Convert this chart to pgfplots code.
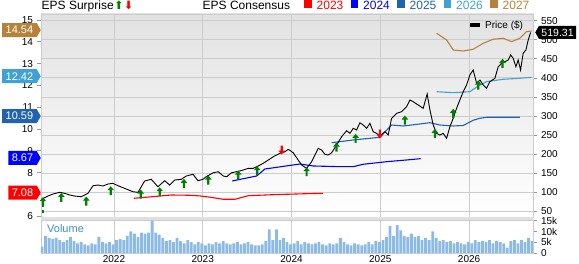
\documentclass[border=0pt]{standalone}
\usepackage{pgfplots}
\pgfplotsset{compat=1.18}
\usepackage{fontspec}
\setmainfont{Liberation Sans}
\newfontfamily\dejavu{DejaVu Sans}
\usetikzlibrary{shapes.symbols}

\definecolor{c23}{HTML}{FF0000}
\definecolor{c24}{HTML}{0000FF}
\definecolor{c25}{HTML}{1F62B0}
\definecolor{c26}{HTML}{40A2D4}
\definecolor{c27}{HTML}{B5823A}
\definecolor{grn}{HTML}{008000}
\definecolor{gridc}{HTML}{CCCCCC}
\definecolor{tickc}{HTML}{999999}
\definecolor{bgtop}{HTML}{E2E2E2}
\definecolor{sepc}{HTML}{E0E0E0}
\definecolor{volc}{HTML}{8CBAE6}
\definecolor{voltext}{HTML}{3A8FD0}

\pgfdeclareplotmark{uparr}{%
  \pgfpathmoveto{\pgfpoint{0pt}{4.5pt}}%
  \pgfpathlineto{\pgfpoint{3.3pt}{0.5pt}}%
  \pgfpathlineto{\pgfpoint{1.1pt}{0.5pt}}%
  \pgfpathlineto{\pgfpoint{1.1pt}{-4.5pt}}%
  \pgfpathlineto{\pgfpoint{-1.1pt}{-4.5pt}}%
  \pgfpathlineto{\pgfpoint{-1.1pt}{0.5pt}}%
  \pgfpathlineto{\pgfpoint{-3.3pt}{0.5pt}}%
  \pgfpathclose\pgfusepathqfill}
\pgfdeclareplotmark{dnarr}{%
  \pgfpathmoveto{\pgfpoint{0pt}{-4.5pt}}%
  \pgfpathlineto{\pgfpoint{3.3pt}{-0.5pt}}%
  \pgfpathlineto{\pgfpoint{1.1pt}{-0.5pt}}%
  \pgfpathlineto{\pgfpoint{1.1pt}{4.5pt}}%
  \pgfpathlineto{\pgfpoint{-1.1pt}{4.5pt}}%
  \pgfpathlineto{\pgfpoint{-1.1pt}{-0.5pt}}%
  \pgfpathlineto{\pgfpoint{-3.3pt}{-0.5pt}}%
  \pgfpathclose\pgfusepathqfill}

\pgfplotsset{
  /pgf/number format/assume math mode=true,
  base/.style={scale only axis, width=492pt, xmin=2021.178, xmax=2026.72,
    at={(41pt,47pt)}, anchor=south west, height=203pt,
    tick label style={font=\fontsize{10}{12}\selectfont}},
}
\tikzset{tagL/.style={shape=signal, signal to=east, signal pointer angle=120,
    text=white, font=\fontsize{11}{13}\selectfont, minimum height=14pt,
    inner xsep=3.5pt, inner ysep=1pt, anchor=east}}

\begin{document}
\begin{tikzpicture}[x=1pt,y=1pt]
\path[use as bounding box] (0,0) rectangle (579,264);

% price axis: background, grid, right ticks
\begin{axis}[base,
  ymin=34.8, ymax=567.6,
  axis background/.style={shade, top color=bgtop, bottom color=white},
  xtick={2022,2023,2024,2025,2026}, xticklabels={},
  ytick={50,100,...,550},
  xmajorgrids, ymajorgrids,
  grid style={gridc, line width=0.7pt},
  ytick pos=right, yticklabel pos=right,
  xtick style={draw=none},
  ytick style={draw=tickc, line width=0.6pt},
  tick align=outside, major tick length=4.5pt,
  axis line style={draw=gridc},
]
\addplot[draw=none] coordinates {(2022,100)};
\end{axis}

% EPS consensus axis
\begin{axis}[base,
  ymin=5.963, ymax=15.275,
  hide x axis, axis y line*=left,
  ytick={6,...,15},
  ytick style={draw=tickc, line width=0.6pt},
  tick align=outside, major tick length=4.5pt,
  axis line style={draw=gridc},
  clip mode=individual,
]
\addplot[c23, line width=1.1pt] coordinates {(2022.225,6.821) (2022.45,6.90) (2022.645,6.972) (2022.85,6.96) (2022.968,6.93) (2023.1,6.86) (2023.231,6.775) (2023.363,6.775) (2023.512,6.940) (2023.75,6.98) (2023.945,7.005) (2024.15,7.03) (2024.357,7.050)};
\addplot[c24, line width=1.1pt] coordinates {(2023.332,7.615) (2023.607,7.844) (2023.700,8.165) (2023.9,8.28) (2024.095,8.394) (2024.244,8.303) (2024.545,8.271) (2024.695,8.271) (2024.807,8.381) (2025.071,8.50) (2025.3,8.58) (2025.454,8.638)};
\addplot[c25, line width=1.1pt] coordinates {(2024.452,9.372) (2024.695,9.495) (2024.995,9.619) (2025.127,10.183) (2025.258,10.138) (2025.446,10.229) (2025.559,10.289) (2025.671,10.183) (2025.821,10.138) (2025.934,10.16) (2026.046,10.40) (2026.122,10.491) (2026.197,10.537) (2026.572,10.537)};
\addplot[c26, line width=1.1pt] coordinates {(2025.634,11.711) (2025.821,11.665) (2026.009,11.711) (2026.103,11.972) (2026.197,12.170) (2026.384,12.280) (2026.572,12.326) (2026.704,12.372)};
\addplot[c27, line width=1.1pt] coordinates {(2025.634,14.390) (2025.747,14.083) (2025.821,13.624) (2025.934,13.578) (2026.046,13.656) (2026.159,13.931) (2026.271,14.115) (2026.384,14.161) (2026.479,14.005) (2026.572,14.161) (2026.647,14.463) (2026.704,14.495)};
\coordinate (e27) at (axis cs:2021.178,14.54);
\coordinate (e26) at (axis cs:2021.178,12.42);
\coordinate (e25) at (axis cs:2021.178,10.59);
\coordinate (e24) at (axis cs:2021.178,8.67);
\coordinate (e23) at (axis cs:2021.178,7.08);
\end{axis}

% price line and surprise arrows
\begin{axis}[base, ymin=34.8, ymax=567.6, hide axis, clip=false]
\addplot[black, line width=0.9pt] coordinates {(2021.181,81.2) (2021.257,89.8) (2021.313,95.1) (2021.389,99.5) (2021.445,96.9) (2021.501,92.5) (2021.557,89.8) (2021.632,88.0) (2021.707,96.9) (2021.764,116.9) (2021.820,118.7) (2021.876,116.1) (2021.932,121.3) (2021.989,123.2) (2022.045,116.9) (2022.120,110.0) (2022.214,101.1) (2022.270,99.5) (2022.346,129.2) (2022.420,133.7) (2022.495,114.2) (2022.571,130.0) (2022.627,118.7) (2022.684,131.8) (2022.758,133.7) (2022.814,142.3) (2022.890,146.8) (2022.946,130.0) (2023.002,133.7) (2023.039,140.5) (2023.118,151.0) (2023.175,153.6) (2023.231,142.3) (2023.269,140.5) (2023.325,151.0) (2023.382,153.6) (2023.456,158.1) (2023.512,162.5) (2023.569,162.5) (2023.625,168.6) (2023.681,175.7) (2023.738,184.3) (2023.794,193.0) (2023.869,201.9) (2023.926,206.1) (2023.963,212.4) (2024.019,203.5) (2024.075,184.3) (2024.114,171.2) (2024.170,162.5) (2024.226,179.9) (2024.264,197.5) (2024.301,215.0) (2024.339,210.6) (2024.376,199.3) (2024.414,197.5) (2024.452,203.5) (2024.508,223.7) (2024.564,245.5) (2024.620,261.2) (2024.658,254.4) (2024.695,267.5) (2024.733,263.1) (2024.770,282.2) (2024.807,276.2) (2024.846,267.5) (2024.883,280.7) (2024.920,258.6) (2024.958,254.4) (2024.995,247.3) (2025.052,258.6) (2025.089,250.0) (2025.127,293.8) (2025.184,306.9) (2025.240,311.1) (2025.296,324.2) (2025.333,341.8) (2025.370,337.4) (2025.427,328.7) (2025.483,320.0) (2025.528,357.6) (2025.559,315.6) (2025.596,276.2) (2025.634,254.4) (2025.671,250.0) (2025.708,254.4) (2025.747,241.3) (2025.784,271.7) (2025.821,293.8) (2025.859,320.0) (2025.896,341.8) (2025.934,363.6) (2025.972,381.2) (2026.009,407.5) (2026.046,420.6) (2026.085,385.7) (2026.122,394.3) (2026.159,381.2) (2026.197,372.5) (2026.234,389.9) (2026.291,398.8) (2026.328,429.2) (2026.366,438.2) (2026.403,442.4) (2026.441,446.8) (2026.468,460.0) (2026.497,451.3) (2026.527,429.2) (2026.553,446.8) (2026.580,420.6) (2026.609,464.4) (2026.640,473.1) (2026.666,499.3) (2026.693,519.3)};
\addplot[grn, dashed, line width=1.1pt] coordinates {(2021.200,68.8) (2021.200,37.3)};
\addplot[only marks, mark=uparr, color=grn] coordinates {(2021.200,74.9) (2021.407,86.4) (2021.688,76.7) (2021.963,103.7) (2022.301,95.1) (2022.515,101.1) (2022.788,123.2) (2023.062,131.8) (2023.400,145.0) (2023.614,156.3) (2024.170,153.6) (2024.506,218.5) (2024.722,241.3) (2025.277,289.3) (2025.615,254.4) (2025.821,306.9) (2026.103,381.2) (2026.377,438.2)};
\addplot[only marks, mark=dnarr, color=c23] coordinates {(2023.889,210.6) (2024.995,252.6)};
\coordinate (plast) at (axis cs:2026.72,519.31);
\end{axis}

\fill[sepc] (41,44) rectangle (533,47);

% volume axis
\begin{axis}[base, at={(41pt,11pt)}, height=33pt,
  ymin=0, ymax=15.33,
  xtick={2022,2023,2024,2025,2026},
  xticklabels={2022,2023,2024,2025,2026},
  ytick={0,5,10,15}, yticklabels={0,5k,10k,15k},
  ytick pos=right, yticklabel pos=right,
  xmajorgrids, grid style={gridc, line width=0.7pt},
  xtick style={draw=none},
  ytick style={draw=tickc, line width=0.6pt},
  tick align=outside, major tick length=4.5pt,
  axis line style={draw=gridc},
  xticklabel style={inner ysep=0.5pt, yshift=3pt},
]
\addplot[ybar, bar width=2.8pt, fill=volc, draw=none] coordinates {
(2021.19,3) (2021.23,8) (2021.27,7) (2021.31,6.5) (2021.35,7) (2021.39,6) (2021.43,5) (2021.47,6) (2021.51,7.5) (2021.55,5.5)
(2021.59,4.5) (2021.63,5) (2021.67,4) (2021.71,3.5) (2021.75,4.5) (2021.79,4) (2021.83,7.5) (2021.87,5) (2021.91,4.5) (2021.95,5)
(2021.99,4) (2022.03,6) (2022.07,6.5) (2022.11,6) (2022.15,8) (2022.19,10) (2022.23,9) (2022.27,7.5) (2022.31,9.5) (2022.35,9)
(2022.39,9.5) (2022.43,15) (2022.47,9.5) (2022.51,8.5) (2022.55,7) (2022.59,5.5) (2022.63,6) (2022.67,5) (2022.71,7) (2022.75,5.5)
(2022.79,4.5) (2022.83,6) (2022.87,5) (2022.91,4) (2022.95,5) (2022.99,4.5) (2023.03,3.5) (2023.07,4.5) (2023.11,4) (2023.15,5)
(2023.19,4.5) (2023.23,5.5) (2023.27,4.5) (2023.31,4) (2023.35,4.5) (2023.39,5) (2023.43,4) (2023.47,4.5) (2023.51,5) (2023.55,4)
(2023.59,3.5) (2023.63,3.5) (2023.67,4) (2023.71,5.5) (2023.75,11) (2023.79,6) (2023.83,11) (2023.87,6) (2023.91,7) (2023.95,5)
(2023.99,4) (2024.03,4.5) (2024.07,5.5) (2024.11,4) (2024.15,5) (2024.19,4.5) (2024.23,4) (2024.27,4.5) (2024.31,5) (2024.35,4)
(2024.39,3.5) (2024.43,4.5) (2024.47,4) (2024.51,4.5) (2024.55,7) (2024.59,5) (2024.63,4) (2024.67,3.5) (2024.71,4.5) (2024.75,4)
(2024.79,3.5) (2024.83,4) (2024.87,5) (2024.91,4) (2024.95,5.5) (2024.99,5) (2025.03,6) (2025.07,7.5) (2025.11,12.5) (2025.15,8)
(2025.19,13) (2025.23,10.5) (2025.27,8) (2025.31,7.5) (2025.35,9) (2025.39,7.5) (2025.43,8) (2025.47,6) (2025.51,7) (2025.55,6)
(2025.59,10) (2025.63,7) (2025.67,5.5) (2025.71,6) (2025.75,5) (2025.79,5.5) (2025.83,4.5) (2025.87,5) (2025.91,4.5) (2025.95,4)
(2025.99,5) (2026.03,4.5) (2026.07,6) (2026.11,5) (2026.15,5.5) (2026.19,5) (2026.23,6) (2026.27,4.5) (2026.31,5.5) (2026.35,5)
(2026.39,4.5) (2026.43,2.5) (2026.47,5.5) (2026.51,6) (2026.55,4.5) (2026.59,6) (2026.63,5) (2026.67,7) (2026.71,5.5)};
\end{axis}

\node[anchor=base west, inner sep=0, text=voltext, font=\fontsize{11}{13}\selectfont] at (47,31) {Volume};

% value tags
\node[tagL, fill=c27] at (e27) {14.54};
\node[tagL, fill=c26] at (e26) {12.42};
\node[tagL, fill=c25] at (e25) {10.59};
\node[tagL, fill=c24] at (e24) {8.67};
\node[tagL, fill=c23] at (e23) {7.08};
\node[shape=signal, signal to=west, signal pointer angle=120, fill=black, text=white,
  font=\fontsize{10.5}{12}\selectfont, minimum height=13pt, inner xsep=2.5pt, inner ysep=1pt,
  anchor=west] at ([xshift=2pt]plast) {519.31};

% top legend
\node[anchor=base west, inner sep=0, font=\fontsize{12}{14}\selectfont] at (41.5,254) {EPS Surprise};
\node[anchor=base west, inner sep=0, font=\dejavu\fontsize{11.5}{13}\selectfont] at (114,254.3) {\textcolor{grn}{⬆}\textcolor{c23}{⬇}};
\node[anchor=base west, inner sep=0, font=\fontsize{12}{14}\selectfont] at (202.5,254) {EPS Consensus};
\fill[c23] (304,256) rectangle (311.5,263.5);
\node[anchor=base west, inner sep=0, text=c23, font=\fontsize{12}{14}\selectfont] at (316.5,254) {2023};
\fill[c24] (350.5,256) rectangle (358,263.5);
\node[anchor=base west, inner sep=0, text=c24, font=\fontsize{12}{14}\selectfont] at (363,254) {2024};
\fill[c25] (397,256) rectangle (404.5,263.5);
\node[anchor=base west, inner sep=0, text=c25, font=\fontsize{12}{14}\selectfont] at (409.5,254) {2025};
\fill[c26] (443.5,256) rectangle (451,263.5);
\node[anchor=base west, inner sep=0, text=c26, font=\fontsize{12}{14}\selectfont] at (456,254) {2026};
\fill[c27] (490,256) rectangle (497.5,263.5);
\node[anchor=base west, inner sep=0, text=c27, font=\fontsize{12}{14}\selectfont] at (502.5,254) {2027};
% price legend
\fill[black] (470,237.3) rectangle (480,241.3);
\node[anchor=base west, inner sep=0, font=\fontsize{10}{12}\selectfont] at (485,235.7) {Price (\$)};
\end{tikzpicture}
\end{document}
